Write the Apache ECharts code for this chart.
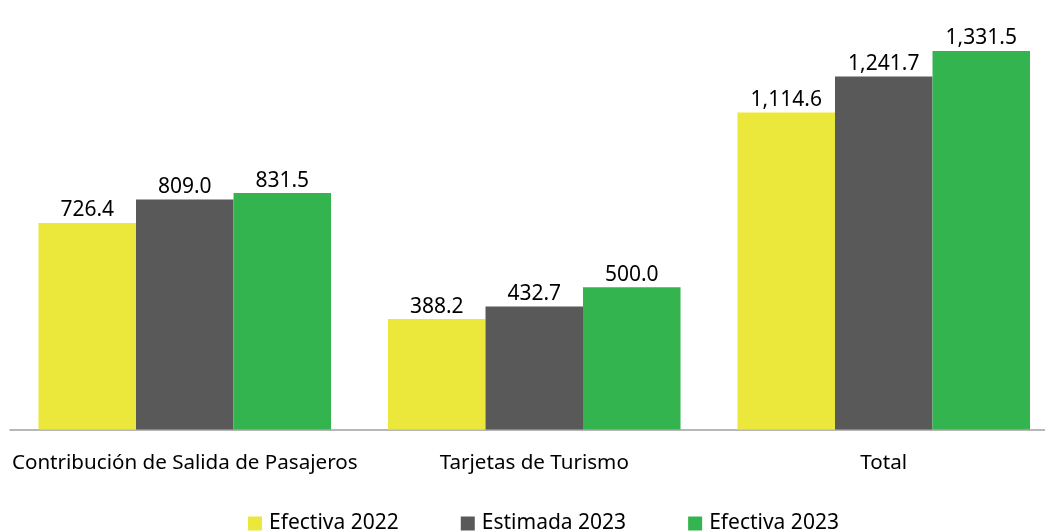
<!DOCTYPE html>
<html>
<head>
<meta charset="utf-8">
<script src="https://cdn.jsdelivr.net/npm/echarts@6/dist/echarts.min.js"></script>
<style>
  html, body { margin: 0; padding: 0; background: #ffffff; }
  #chart { width: 1045px; height: 531px; }
</style>
</head>
<body>
<div id="chart"></div>
<script>
// Revenue by concept (millions)
const categories = ['Contribución de Salida de Pasajeros', 'Tarjetas de Turismo', 'Total'];
const seriesNames = ['Efectiva 2022', 'Estimada 2023', 'Efectiva 2023'];
const efectiva2022 = [726.4, 388.2, 1114.6];
const estimada2023 = [809.0, 432.7, 1241.7];
const efectiva2023 = [831.5, 500.0, 1331.5];
const colors = ['#EBE83B', '#595959', '#33B44F'];

const FONT = '"Noto Sans", "DejaVu Sans", sans-serif';

const fmt = v => Number(v).toLocaleString('en-US', { minimumFractionDigits: 1, maximumFractionDigits: 1 });

const makeSeries = (name, data, color) => ({
  name: name,
  type: 'bar',
  data: data,
  barGap: '0%',
  barCategoryGap: '16.3%',
  itemStyle: { color: color },
  label: {
    show: true,
    position: 'top',
    distance: 2,
    color: '#000000',
    fontFamily: FONT,
    fontSize: 21,
    formatter: p => fmt(p.value)
  },
  emphasis: { disabled: true }
});

const chart = echarts.init(document.getElementById('chart'), null, { renderer: 'canvas' });
chart.setOption({
  animation: false,
  backgroundColor: '#ffffff',
  // plot area runs slightly past the right edge of the canvas
  grid: { left: 10, width: 1048.5, top: 3, height: 426.5, containLabel: false, outerBoundsMode: 'none' },
  legend: {
    data: seriesNames,
    left: 248,
    top: 513,
    padding: 0,
    itemWidth: 14,
    itemHeight: 14,
    itemGap: 62,
    icon: 'rect',
    textStyle: { color: '#000000', fontFamily: FONT, fontSize: 21, padding: [0, 0, 0, 2] }
  },
  xAxis: {
    type: 'category',
    data: categories,
    axisLine: { show: true, lineStyle: { color: '#a0a0a0', width: 1.5 } },
    axisTick: { show: false },
    axisLabel: { color: '#000000', fontFamily: FONT, fontSize: 20.6, margin: 23, interval: 0 },
    splitLine: { show: false }
  },
  yAxis: {
    type: 'value',
    min: 0,
    max: 1500,
    show: false,
    splitLine: { show: false }
  },
  series: [
    makeSeries(seriesNames[0], efectiva2022, colors[0]),
    makeSeries(seriesNames[1], estimada2023, colors[1]),
    makeSeries(seriesNames[2], efectiva2023, colors[2])
  ]
});
</script>
</body>
</html>
